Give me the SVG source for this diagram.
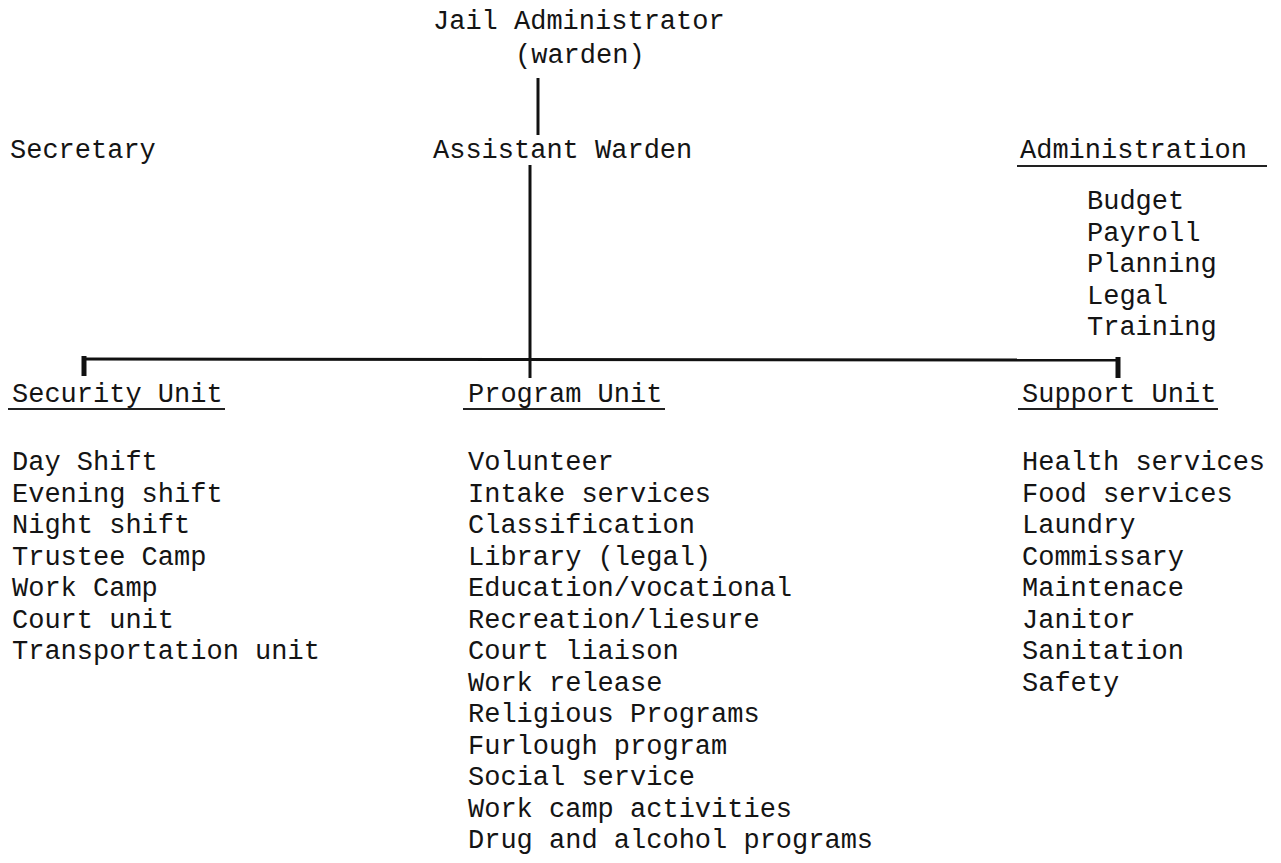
<svg xmlns="http://www.w3.org/2000/svg" width="1281" height="863" viewBox="0 0 1281 863">
<style>
text{font-family:"Liberation Mono","Courier New",monospace;font-size:27px;fill:#141414}
.ul{stroke:#222;stroke-width:2;fill:none}
.conn{stroke:#111;stroke-width:3;fill:none;stroke-linecap:butt}
.tick{stroke:#111;stroke-width:5;fill:none}
</style>
<rect width="1281" height="863" fill="#fff"/>
<g id="connectors">
<line class="conn" x1="538" y1="78" x2="538" y2="135"/>
<line class="conn" x1="530" y1="165" x2="530" y2="378"/>
<line class="conn" x1="83" y1="359" x2="1118" y2="360"/>
<line class="tick" x1="84" y1="356" x2="84" y2="376"/>
<line class="tick" x1="1118" y1="357" x2="1118" y2="378"/>
</g>
<g id="jail-administrator">
<text x="433" y="29">Jail Administrator</text>
<text x="515" y="63">(warden)</text>
</g>
<g id="secretary">
<text x="10" y="158">Secretary</text>
</g>
<g id="assistant-warden">
<text x="433" y="158">Assistant Warden</text>
</g>
<g id="administration">
<text x="1020" y="158">Administration</text>
<line class="ul" x1="1017" y1="166" x2="1267" y2="166"/>
<text x="1087" y="209">Budget</text>
<text x="1087" y="241">Payroll</text>
<text x="1087" y="272">Planning</text>
<text x="1087" y="304">Legal</text>
<text x="1087" y="335">Training</text>
</g>
<g id="security-unit">
<text x="12" y="402">Security Unit</text>
<line class="ul" x1="8" y1="409" x2="225" y2="409"/>
<text x="12" y="470">Day Shift</text>
<text x="12" y="501.5">Evening shift</text>
<text x="12" y="533">Night shift</text>
<text x="12" y="564.5">Trustee Camp</text>
<text x="12" y="596">Work Camp</text>
<text x="12" y="627.5">Court unit</text>
<text x="12" y="659">Transportation unit</text>
</g>
<g id="program-unit">
<text x="468" y="402">Program Unit</text>
<line class="ul" x1="463" y1="409" x2="665" y2="409"/>
<text x="468" y="470">Volunteer</text>
<text x="468" y="501.5">Intake services</text>
<text x="468" y="533">Classification</text>
<text x="468" y="564.5">Library (legal)</text>
<text x="468" y="596">Education/vocational</text>
<text x="468" y="627.5">Recreation/liesure</text>
<text x="468" y="659">Court liaison</text>
<text x="468" y="690.5">Work release</text>
<text x="468" y="722">Religious Programs</text>
<text x="468" y="753.5">Furlough program</text>
<text x="468" y="785">Social service</text>
<text x="468" y="816.5">Work camp activities</text>
<text x="468" y="848">Drug and alcohol programs</text>
</g>
<g id="support-unit">
<text x="1022" y="402">Support Unit</text>
<line class="ul" x1="1018" y1="409" x2="1218" y2="409"/>
<text x="1022" y="470">Health services</text>
<text x="1022" y="501.5">Food services</text>
<text x="1022" y="533">Laundry</text>
<text x="1022" y="564.5">Commissary</text>
<text x="1022" y="596">Maintenace</text>
<text x="1022" y="627.5">Janitor</text>
<text x="1022" y="659">Sanitation</text>
<text x="1022" y="690.5">Safety</text>
</g>
</svg>
